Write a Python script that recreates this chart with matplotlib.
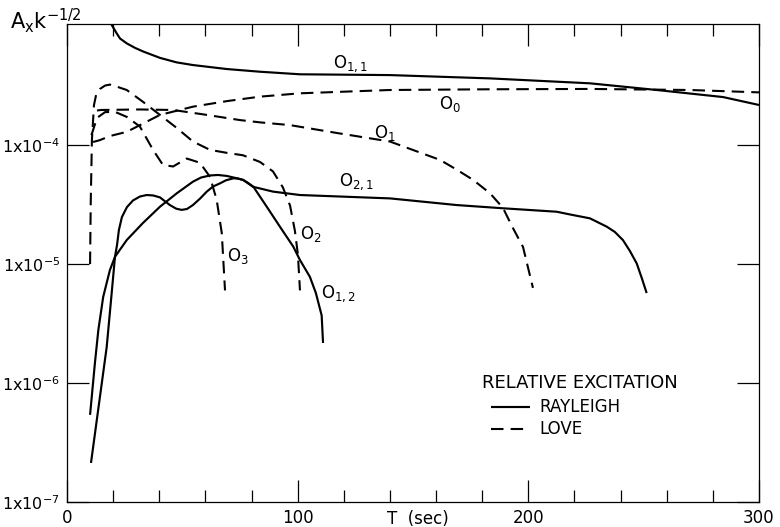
import matplotlib
matplotlib.use("Agg")
import matplotlib.pyplot as plt
from matplotlib.lines import Line2D
from matplotlib.ticker import FixedLocator, NullLocator

# ---- relative excitation vs period T (sec) ----
# Rayleigh modes (solid)
o11_T = [18.5, 19.4, 20.2, 21.5, 23.0, 25.9, 29.5, 33.1, 40.3, 47.5, 54.6, 69.3, 83.7, 101, 140, 183.4,
         226.7, 255.7, 284.4, 300]
o11_A = [1.1e-3, 1.02e-3, 9.6e-4, 8.7e-4, 7.85e-4, 7.15e-4, 6.55e-4, 6.1e-4, 5.4e-4, 4.95e-4, 4.7e-4,
         4.35e-4, 4.13e-4, 3.93e-4, 3.87e-4, 3.63e-4, 3.30e-4, 2.90e-4, 2.53e-4, 2.17e-4]

o21_T = [10.0, 12.1, 13.6, 15.7, 18.6, 20.8, 25.9, 32.9, 40.3, 47.6, 54.6, 58.1, 62.0, 65.5, 69.2, 72.8,
         76.3, 80.6, 89.3, 101, 140, 168.9, 189, 212.3, 218, 226.7, 234, 237.5, 241, 244, 247, 249.2, 251.3]
o21_A = [5.4e-7, 1.47e-6, 2.8e-6, 5.3e-6, 8.9e-6, 1.15e-5, 1.59e-5, 2.21e-5, 3.03e-5, 3.93e-5, 4.92e-5,
         5.33e-5, 5.55e-5, 5.6e-5, 5.5e-5, 5.3e-5, 5.1e-5, 4.46e-5, 4.06e-5, 3.80e-5, 3.56e-5, 3.13e-5,
         2.94e-5, 2.75e-5, 2.61e-5, 2.42e-5, 2.06e-5, 1.86e-5, 1.59e-5, 1.29e-5, 1.01e-5, 7.6e-6, 5.7e-6]

o12_T = [10.4, 14.3, 17.2, 19.1, 20.8, 21.7, 22.5, 23.8, 26.0, 28.6, 31.6, 34.5, 37.3, 40.3, 44.6, 47.3,
         49.7, 52.0, 54.6, 57.7, 60.6, 63.3, 66.3, 68.9, 72.1, 74.1, 76.4, 78.5, 80.8, 86.6, 92.3, 98.1,
         101, 105.3, 107.9, 110.4, 111]
o12_A = [2.13e-7, 7.7e-7, 2.0e-6, 5.0e-6, 1.15e-5, 1.45e-5, 1.93e-5, 2.48e-5, 3.01e-5, 3.42e-5, 3.69e-5,
         3.80e-5, 3.77e-5, 3.63e-5, 3.13e-5, 2.92e-5, 2.85e-5, 2.90e-5, 3.13e-5, 3.55e-5, 4.06e-5, 4.48e-5,
         4.76e-5, 5.05e-5, 5.25e-5, 5.23e-5, 5.08e-5, 4.80e-5, 4.46e-5, 3.03e-5, 2.06e-5, 1.40e-5,
         1.08e-5, 7.8e-6, 5.7e-6, 3.7e-6, 2.17e-6]

# Love modes (dashed)
o0_T = [11.3, 14.3, 18.6, 25.9, 33.1, 40.3, 54.6, 69.4, 83.7, 101, 140, 183, 226.7, 270, 300]
o0_A = [1.06e-4, 1.10e-4, 1.19e-4, 1.29e-4, 1.52e-4, 1.79e-4, 2.10e-4, 2.34e-4, 2.55e-4, 2.72e-4,
        2.90e-4, 2.94e-4, 2.96e-4, 2.90e-4, 2.77e-4]

o1_T = [13.0, 14.7, 31.6, 46.0, 60.7, 75.0, 83.7, 96.7, 118.3, 140, 161.7, 169, 176, 183.4, 189, 193.3,
        197.7, 202]
o1_A = [1.95e-4, 1.97e-4, 1.99e-4, 1.97e-4, 1.79e-4, 1.62e-4, 1.55e-4, 1.47e-4, 1.25e-4, 1.07e-4,
        7.5e-5, 6.2e-5, 5.1e-5, 3.93e-5, 2.96e-5, 2.01e-5, 1.39e-5, 6.3e-6]

o2_T = [10.0, 10.3, 10.8, 11.7, 12.6, 14.3, 16.5, 18.6, 22.1, 25.9, 32.9, 40.3, 47.6, 54.6, 62.0, 69.2,
        76.3, 83.7, 89.3, 93.6, 96.7, 98.8, 100.1, 101.0]
o2_A = [1.0e-5, 3.4e-5, 1.10e-4, 2.17e-4, 2.63e-4, 2.96e-4, 3.16e-4, 3.22e-4, 3.07e-4, 2.90e-4, 2.31e-4,
        1.79e-4, 1.39e-4, 1.07e-4, 9.1e-5, 8.6e-5, 8.2e-5, 7.2e-5, 6.0e-5, 4.4e-5, 3.1e-5, 1.9e-5,
        1.2e-5, 6.0e-6]

o3_T = [10.6, 13.0, 16.5, 20.8, 26.0, 31.6, 37.3, 41.6, 46.0, 51.9, 57.6, 62.0, 64.9, 67.1, 68.5]
o3_A = [1.21e-4, 1.69e-4, 1.89e-4, 1.90e-4, 1.72e-4, 1.43e-4, 9.1e-5, 6.8e-5, 6.6e-5, 7.7e-5, 7.1e-5,
        5.4e-5, 3.45e-5, 1.82e-5, 6.0e-6]

x_major = [0, 100, 200, 300]
x_minor = [20, 40, 60, 80, 120, 140, 160, 180, 220, 240, 260, 280]
y_ticks = [1e-7, 1e-6, 1e-5, 1e-4]
y_labels = [r"1x10$^{-7}$", r"1x10$^{-6}$", r"1x10$^{-5}$", r"1x10$^{-4}$"]

plt.rcParams["font.family"] = ["DejaVu Sans"]
plt.rcParams["mathtext.default"] = "regular"

fig = plt.figure(figsize=(7.8, 5.27), dpi=100)
ax = fig.add_axes([67 / 780, 25 / 527, 692 / 780, 478 / 527])
ax.set_yscale("log")
ax.set_xlim(0, 300)
ax.set_ylim(1e-7, 1.04e-3)

solid = dict(color="black", lw=1.55, solid_capstyle="butt", solid_joinstyle="round")
dashed = dict(color="black", lw=1.5, dashes=(6, 3.4), dash_joinstyle="round")

ax.plot(o11_T, o11_A, **solid)
ax.plot(o21_T, o21_A, **solid)
ax.plot(o12_T, o12_A, **solid)
ax.plot(o0_T, o0_A, **dashed)
ax.plot(o1_T, o1_A, **dashed)
ax.plot(o2_T, o2_A, **dashed)
ax.plot(o3_T, o3_A, **dashed)

# mode labels
lab = dict(fontsize=12, ha="center", va="center")
ax.text(122.7, 4.8e-4, r"O$_{1,1}$", **lab)
ax.text(166, 2.2e-4, r"O$_{0}$", **lab)
ax.text(137.8, 1.26e-4, r"O$_{1}$", **lab)
ax.text(125.7, 4.9e-5, r"O$_{2,1}$", **lab)
ax.text(105.8, 1.8e-5, r"O$_{2}$", **lab)
ax.text(74.1, 1.17e-5, r"O$_{3}$", **lab)
ax.text(117.5, 5.6e-6, r"O$_{1,2}$", **lab)

# axes styling
for s in ax.spines.values():
    s.set_linewidth(0.9)
ax.xaxis.set_major_locator(FixedLocator(x_major))
ax.xaxis.set_minor_locator(FixedLocator(x_minor))
ax.set_xticklabels(["0", "100", "200", "300"])
ax.yaxis.set_major_locator(FixedLocator(y_ticks))
ax.yaxis.set_minor_locator(NullLocator())
ax.set_yticklabels(y_labels)
ax.tick_params(axis="x", which="major", direction="in", length=16, width=0.9,
               top=True, labelsize=12, pad=5)
ax.tick_params(axis="x", which="minor", direction="in", length=8.5, width=0.9, top=True)
ax.tick_params(axis="y", which="major", direction="in", length=16, width=0.9,
               right=True, labelsize=11.5, pad=5)

ax.text(152, -0.035, "T  (sec)", transform=ax.get_xaxis_transform(),
        fontsize=12, ha="center", va="center")
fig.text(10 / 780, 1 - 29 / 527, r"A$_{x}$k$^{-1/2}$", fontsize=15, ha="left", va="baseline")

# legend
def ax_xy(px, py):
    return (px - 67) / 692, (503 - py) / 478

tx, ty = ax_xy(482, 384)
ax.text(tx, ty, "RELATIVE EXCITATION", transform=ax.transAxes, fontsize=13,
        ha="left", va="center")
for py, name, style in [(408, "RAYLEIGH", solid), (430, "LOVE", dashed)]:
    x0, y0 = ax_xy(491, py)
    x1, _ = ax_xy(530, py)
    ax.add_line(Line2D([x0, x1], [y0, y0], transform=ax.transAxes, **style))
    lx, _ = ax_xy(539, py)
    ax.text(lx, y0, name, transform=ax.transAxes, fontsize=12, ha="left", va="center")

fig.savefig("out.png", dpi=100)
